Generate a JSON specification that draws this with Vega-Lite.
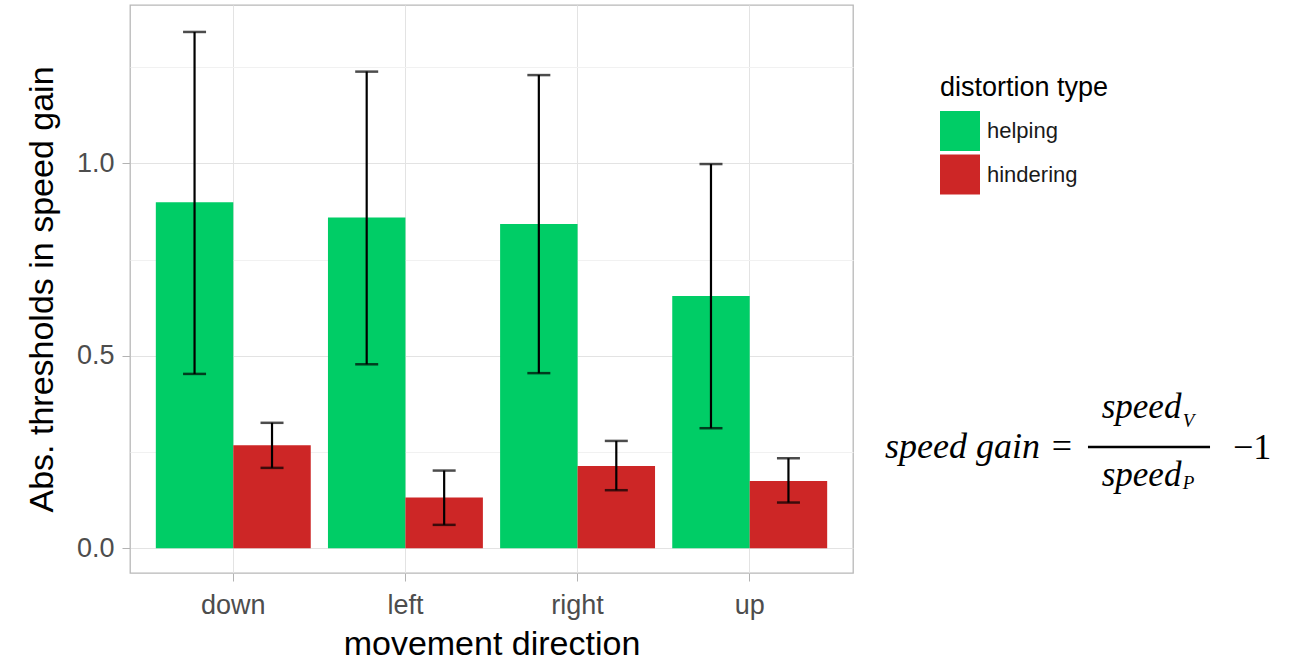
{
  "$schema": "https://vega.github.io/schema/vega-lite/v6.json",
  "width": 723,
  "height": 568,
  "autosize": "none",
  "padding": {"left": 130, "top": 5, "right": 438, "bottom": 87},
  "background": "white",
  "config": {
    "font": "Liberation Sans",
    "view": {"stroke": "#b8b8b8", "strokeWidth": 1.3}
  },
  "layer": [
    {
      "data": {
        "values": [
          {"direction": "down", "distortion type": "helping", "threshold": 0.899, "lo": 0.453, "hi": 1.341},
          {"direction": "down", "distortion type": "hindering", "threshold": 0.268, "lo": 0.209, "hi": 0.326},
          {"direction": "left", "distortion type": "helping", "threshold": 0.859, "lo": 0.478, "hi": 1.238},
          {"direction": "left", "distortion type": "hindering", "threshold": 0.132, "lo": 0.061, "hi": 0.202},
          {"direction": "right", "distortion type": "helping", "threshold": 0.842, "lo": 0.455, "hi": 1.229},
          {"direction": "right", "distortion type": "hindering", "threshold": 0.214, "lo": 0.151, "hi": 0.279},
          {"direction": "up", "distortion type": "helping", "threshold": 0.655, "lo": 0.312, "hi": 0.998},
          {"direction": "up", "distortion type": "hindering", "threshold": 0.175, "lo": 0.119, "hi": 0.234}
        ]
      },
      "encoding": {
        "x": {
          "field": "direction",
          "type": "nominal",
          "sort": ["down", "left", "right", "up"],
          "scale": {"paddingInner": 0.1, "paddingOuter": 0.15},
          "axis": {
            "title": "movement direction",
            "titleFontSize": 34,
            "titleFontWeight": "normal",
            "titleColor": "#000000",
            "titlePadding": 9,
            "labelFontSize": 27,
            "labelColor": "#4d4d4d",
            "labelAngle": 0,
            "labelPadding": 11,
            "tickSize": 8,
            "tickColor": "#b3b3b3",
            "bandPosition": 0.5,
            "grid": true,
            "gridColor": "#e3e3e3",
            "domain": false
          }
        },
        "xOffset": {
          "field": "distortion type",
          "type": "nominal",
          "sort": ["helping", "hindering"],
          "scale": {"paddingInner": 0, "paddingOuter": 0}
        }
      },
      "layer": [
        {
          "mark": {"type": "bar"},
          "encoding": {
            "y": {
              "field": "threshold",
              "type": "quantitative",
              "scale": {"domain": [-0.064, 1.411], "nice": false, "zero": false},
              "axis": {
                "title": "Abs. thresholds in speed gain",
                "titleFontSize": 34,
                "titleFontWeight": "normal",
                "titleColor": "#000000",
                "titlePadding": 17,
                "values": [0, 0.25, 0.5, 0.75, 1, 1.25],
                "labelExpr": "datum.value % 0.5 == 0 ? format(datum.value, '.1f') : ''",
                "labelFontSize": 27,
                "labelColor": "#4d4d4d",
                "labelPadding": 8,
                "tickSize": 8,
                "tickColor": {"condition": {"test": "datum.value % 0.5 != 0", "value": "transparent"}, "value": "#b3b3b3"},
                "gridColor": {"condition": {"test": "datum.value % 0.5 != 0", "value": "#f1f1f1"}, "value": "#e3e3e3"},
                "domain": false
              }
            },
            "y2": {"datum": 0},
            "color": {
              "field": "distortion type",
              "type": "nominal",
              "scale": {"domain": ["helping", "hindering"], "range": ["#00CD66", "#CD2626"]},
              "legend": {
                "orient": "none",
                "legendX": 810,
                "legendY": 70,
                "title": "distortion type",
                "titleFontSize": 27,
                "titleFontWeight": "normal",
                "titleColor": "#000000",
                "titlePadding": 9,
                "labelFontSize": 22,
                "labelColor": "#1a1a1a",
                "labelOffset": 7,
                "symbolType": "square",
                "symbolSize": 1600,
                "symbolStrokeWidth": 0,
                "symbolOpacity": 1,
                "rowPadding": 3.5
              }
            }
          }
        },
        {
          "mark": {"type": "rule", "color": "#000000", "strokeWidth": 2.2},
          "encoding": {
            "y": {"field": "lo", "type": "quantitative"},
            "y2": {"field": "hi"}
          }
        },
        {
          "mark": {"type": "tick", "color": "#000000", "thickness": 2.5, "size": 23},
          "encoding": {
            "y": {"field": "lo", "type": "quantitative"}
          }
        },
        {
          "mark": {"type": "tick", "color": "#000000", "thickness": 2.5, "size": 23},
          "encoding": {
            "y": {"field": "hi", "type": "quantitative"}
          }
        }
      ]
    },
    {
      "encoding": {
        "x": {"field": "fx", "type": "quantitative", "scale": {"domain": [0, 10], "nice": false, "zero": false}, "axis": null},
        "y": {"field": "fy", "type": "quantitative", "scale": {"domain": [0, 10], "nice": false, "zero": false}, "axis": null}
      },
      "layer": [
        {
          "data": {"values": [
            {"piece": "speed gain", "fx": 10.443, "fy": 2.019}
          ]},
          "mark": {"type": "text", "align": "left", "baseline": "alphabetic", "font": "Liberation Serif", "fontStyle": "italic", "fontSize": 36, "color": "#000000"},
          "encoding": {"text": {"field": "piece"}}
        },
        {
          "data": {"values": [
            {"piece": "speed", "fx": 13.44, "fy": 2.724},
            {"piece": "speed", "fx": 13.44, "fy": 1.532}
          ]},
          "mark": {"type": "text", "align": "left", "baseline": "alphabetic", "font": "Liberation Serif", "fontStyle": "italic", "fontSize": 35, "color": "#000000"},
          "encoding": {"text": {"field": "piece"}}
        },
        {
          "data": {"values": [
            {"piece": "=", "fx": 12.75, "fy": 2.019},
            {"piece": "\u22121", "fx": 15.256, "fy": 2.002}
          ]},
          "mark": {"type": "text", "align": "left", "baseline": "alphabetic", "font": "Liberation Serif", "fontSize": 36, "color": "#000000"},
          "encoding": {"text": {"field": "piece"}}
        },
        {
          "data": {"values": [
            {"piece": "V", "fx": 14.56, "fy": 2.57},
            {"piece": "P", "fx": 14.56, "fy": 1.479}
          ]},
          "mark": {"type": "text", "align": "left", "baseline": "alphabetic", "font": "Liberation Serif", "fontStyle": "italic", "fontSize": 19, "color": "#000000"},
          "encoding": {"text": {"field": "piece"}}
        },
        {
          "data": {"values": [
            {"fx": 13.25, "fx2": 14.938, "fy": 2.218}
          ]},
          "mark": {"type": "rule", "color": "#000000", "strokeWidth": 2.5},
          "encoding": {"x2": {"field": "fx2"}}
        }
      ]
    }
  ],
  "resolve": {
    "scale": {"x": "independent", "y": "independent"},
    "axis": {"x": "independent", "y": "independent"}
  }
}
